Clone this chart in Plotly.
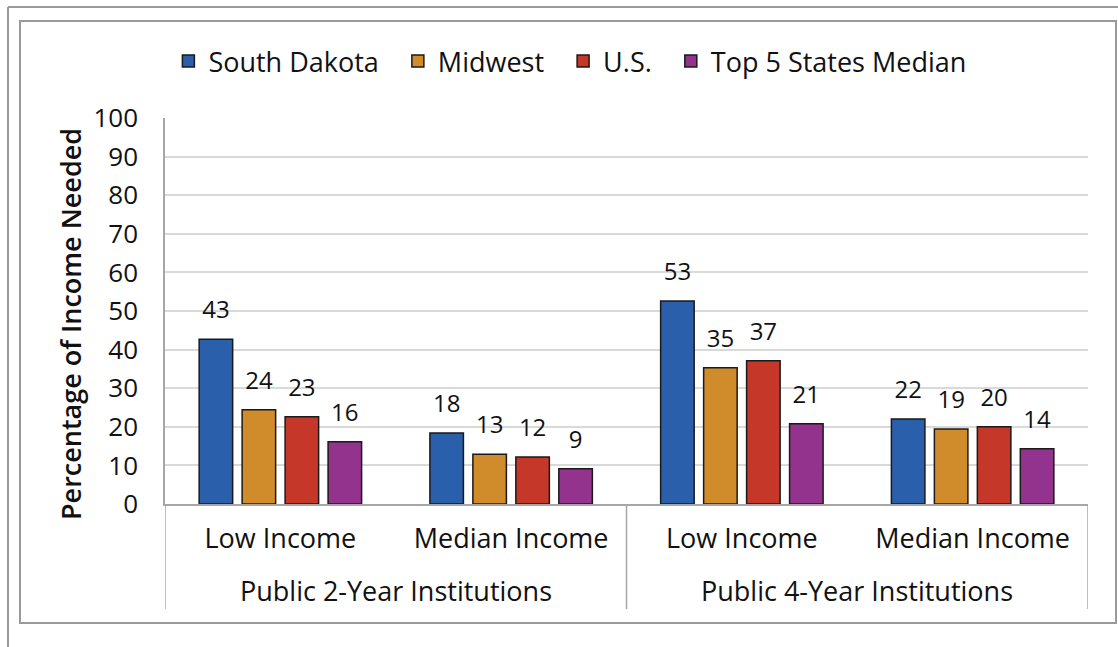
import plotly.graph_objects as go

# ---- data ----
institutions = ["Public 2-Year Institutions", "Public 2-Year Institutions",
                "Public 4-Year Institutions", "Public 4-Year Institutions"]
income_levels = ["Low Income", "Median Income", "Low Income", "Median Income"]
series_names = ["South Dakota", "Midwest", "U.S.", "Top 5 States Median"]
south_dakota = [42.7, 18.4, 52.6, 22.0]
midwest = [24.4, 12.9, 35.3, 19.4]
us = [22.6, 12.2, 37.1, 20.0]
top5_median = [16.1, 9.1, 20.8, 14.3]
y_tick_values = list(range(0, 101, 10))
y_title = "Percentage of Income Needed"

series_values = [south_dakota, midwest, us, top5_median]
colors = ["#2A5FAC", "#D08B2B", "#C53728", "#93338D"]

FONT = "Open Sans"
XL = 27
positions = list(range(len(income_levels)))

fig = go.Figure()
for name, vals, col in zip(series_names, series_values, colors):
    fig.add_trace(go.Bar(
        x=positions, y=vals, name=name + "\u00a0\u00a0",
        marker=dict(color=col, line=dict(color="#1a1a1a", width=1.5)),
        hoverinfo="skip",
    ))
# value labels (scatter in group mode so they align with the bars)
for name, vals in zip(series_names, series_values):
    fig.add_trace(go.Scatter(
        x=positions, y=vals, mode="markers+text",
        text=[f"{v:.0f}" for v in vals],
        textposition="top center",
        textfont=dict(family=FONT, size=24, color="#111111"),
        marker=dict(size=22, opacity=0),
        showlegend=False, hoverinfo="skip", cliponaxis=False,
    ))

L, R, T, B = 165, 1088, 118, 504
W, H = 1118, 647
pw, ph = R - L, B - T


def px(xp):
    return (xp - L) / pw


def py(yp):
    return (B - yp) / ph


shapes = [
    dict(type="rect", xref="paper", yref="paper",
         x0=px(20), x1=px(1116), y0=py(623), y1=py(21),
         line=dict(color="#9a9a9a", width=2), layer="below"),
    dict(type="line", xref="paper", yref="paper",
         x0=px(8), x1=px(1118), y0=py(7), y1=py(7),
         line=dict(color="#9a9a9a", width=2)),
    dict(type="line", xref="paper", yref="paper",
         x0=px(8), x1=px(8), y0=py(7), y1=py(647),
         line=dict(color="#9a9a9a", width=2)),
]

# group structure: dividers and group labels derived from the data
annotations = []
groups = []
for i, g in enumerate(institutions):
    if not groups or groups[-1][0] != g:
        groups.append([g, i, i])
    else:
        groups[-1][2] = i
boundaries = sorted({grp[1] - 0.5 for grp in groups} | {grp[2] + 0.5 for grp in groups})
for bx in boundaries:
    shapes.append(dict(type="line", xref="x", yref="paper", x0=bx, x1=bx,
                       y0=0, y1=py(609), line=dict(color="#A6A6A6", width=1.5)))
for g, i0, i1 in groups:
    annotations.append(dict(
        text=g, xref="x", yref="paper", x=(i0 + i1) / 2, y=py(590),
        xanchor="center", yanchor="middle", showarrow=False,
        font=dict(family=FONT, size=XL, color="#111111"),
    ))
annotations.append(dict(
    text=y_title, xref="paper", yref="paper", x=px(70), y=py(324),
    xanchor="center", yanchor="middle", textangle=-90, showarrow=False,
    font=dict(family=FONT, size=27, color="#111111", weight=600),
))

fig.update_layout(
    width=W, height=H,
    margin=dict(l=L, r=W - R, t=T, b=H - B),
    paper_bgcolor="white", plot_bgcolor="white",
    barmode="group", bargap=0.255, bargroupgap=0.22,
    scattermode="group", scattergap=0.255,
    font=dict(family=FONT, size=24, color="#111111"),
    legend=dict(orientation="h", xref="container", yref="container",
                x=0.516, xanchor="center", y=0.905, yanchor="middle",
                font=dict(family=FONT, size=27, color="#111111"),
                traceorder="normal", itemwidth=30),
    shapes=shapes,
    annotations=annotations,
    showlegend=True,
)
fig.update_yaxes(
    range=[0, 100], tickvals=y_tick_values,
    showgrid=True, gridcolor="#D9D9D9", gridwidth=1.5,
    showline=True, linecolor="#A6A6A6", linewidth=1.5,
    ticks="", ticklabelstandoff=20,
    tickfont=dict(family=FONT, size=26, color="#111111"),
    zeroline=False,
)
fig.update_xaxes(
    range=[-0.5, len(positions) - 0.5],
    tickvals=positions, ticktext=income_levels,
    showgrid=False, zeroline=False,
    showline=True, linecolor="#A6A6A6", linewidth=1.5,
    tickfont=dict(family=FONT, size=XL, color="#111111"),
    ticks="", ticklabelstandoff=10,
)

fig.write_html("out.html", post_script="document.body.style.margin='0';",
               config={"displayModeBar": False})
